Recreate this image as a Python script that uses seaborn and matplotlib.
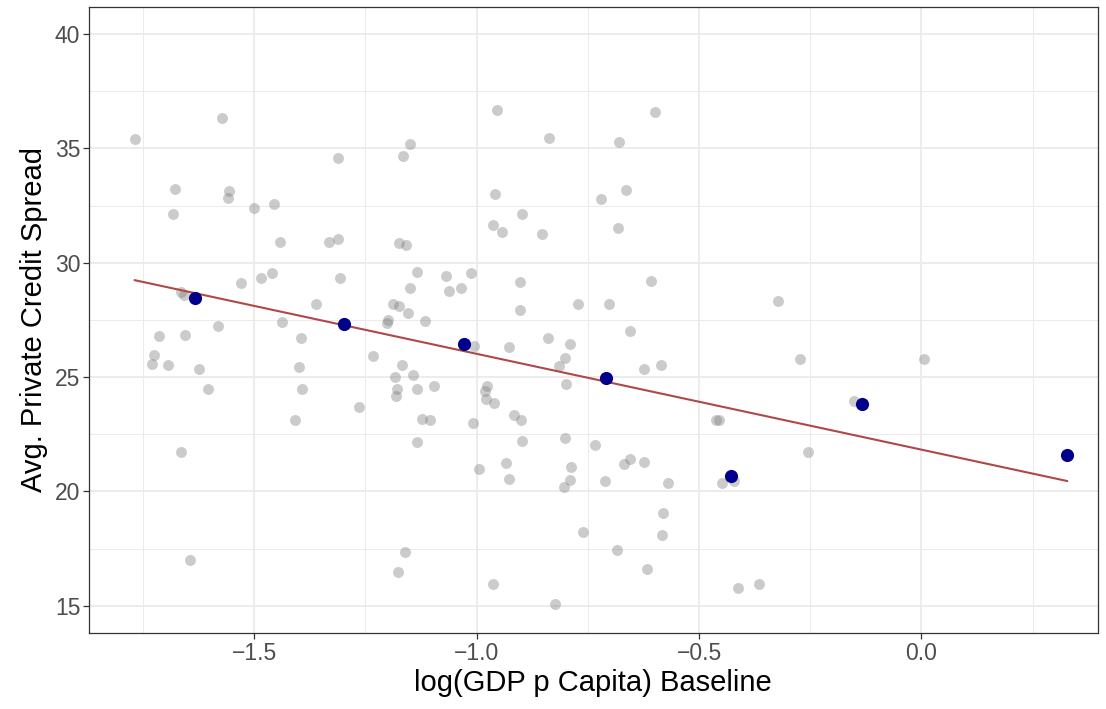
import numpy as np
import pandas as pd
import matplotlib
matplotlib.use("Agg")
import matplotlib.pyplot as plt
from matplotlib.ticker import MultipleLocator
import seaborn as sns

# country-level observations (grey)
gdp = [-1.769, -1.572, -1.679, -1.557, -1.559, -1.682, -1.500, -1.455, -1.311, -1.443,
       -1.332, -1.312, -1.530, -1.485, -1.460, -1.306, -1.665, -1.657, -1.360, -1.714,
       -1.656, -1.582, -1.438, -1.395, -1.726, -1.730, -1.694, -1.625, -1.399, -1.604,
       -1.392, -1.408, -1.664, -1.645, -0.955, -0.837, -1.149, -1.166, -0.958, -0.899,
       -0.963, -0.942, -0.854, -1.174, -1.159, -1.133, -1.069, -1.012, -0.903, -1.149,
       -1.062, -1.036, -0.902, -0.771, -1.188, -1.174, -1.155, -1.199, -1.201, -1.115,
       -1.232, -1.167, -1.184, -1.142, -1.179, -1.182, -1.134, -1.096, -1.264, -1.005,
       -0.928, -0.840, -0.791, -0.802, -0.815, -0.800, -0.976, -0.980, -0.979, -0.962,
       -0.917, -0.900, -1.123, -1.105, -1.009, -1.135, -0.899, -0.802, -0.733, -0.994,
       -0.935, -0.928, -0.787, -0.790, -0.804, -0.761, -1.160, -1.176, -0.964, -0.824,
       -0.599, -0.679, -0.665, -0.721, -0.683, -0.608, -0.703, -0.322, -0.656, -0.623,
       -0.586, -0.274, -0.152, -0.462, -0.456, -0.656, -0.669, -0.623, -0.712, -0.569,
       -0.449, -0.422, -0.254, -0.580, -0.584, -0.684, -0.616, -0.412, -0.366, 0.005,
       0.328]
spread = [35.42, 36.33, 33.21, 33.13, 32.83, 32.13, 32.38, 32.57, 34.59, 30.92,
          30.91, 31.05, 29.10, 29.35, 29.55, 29.35, 28.74, 28.59, 28.20, 26.80,
          26.84, 27.24, 27.40, 26.70, 25.97, 25.58, 25.55, 25.37, 25.46, 24.50,
          24.47, 23.12, 21.74, 17.01, 36.69, 35.47, 35.19, 34.68, 33.02, 32.13,
          31.64, 31.36, 31.25, 30.85, 30.77, 29.61, 29.42, 29.54, 29.17, 28.89,
          28.75, 28.90, 27.95, 28.19, 28.19, 28.13, 27.81, 27.49, 27.36, 27.47,
          25.93, 25.55, 25.00, 25.11, 24.50, 24.19, 24.49, 24.62, 23.71, 26.38,
          26.33, 26.70, 26.44, 25.85, 25.48, 24.69, 24.60, 24.41, 24.03, 23.89,
          23.34, 23.13, 23.16, 23.12, 22.99, 22.17, 22.22, 22.34, 22.04, 21.00,
          21.26, 20.56, 21.05, 20.51, 20.19, 18.25, 17.36, 16.47, 15.95, 15.09,
          36.59, 35.29, 33.17, 32.79, 31.52, 29.22, 28.19, 28.33, 27.01, 25.36,
          25.53, 25.81, 23.96, 23.13, 23.13, 21.41, 21.22, 21.31, 20.46, 20.38,
          20.35, 20.46, 21.74, 19.05, 18.10, 17.42, 16.60, 15.77, 15.97, 25.81,
          21.60]

# binned means (blue)
bin_gdp = [-1.633, -1.299, -1.029, -0.710, -0.427, -0.134, 0.328]
bin_spread = [28.45, 27.34, 26.46, 24.97, 20.68, 23.84, 21.60]

# linear fit
fit_intercept = 21.83
fit_slope = -4.19

df = pd.DataFrame({"gdp": gdp, "spread": spread})
bins = pd.DataFrame({"gdp": bin_gdp, "spread": bin_spread})
line_x = np.array([df["gdp"].min(), df["gdp"].max()])
fit = pd.DataFrame({"gdp": line_x, "spread": fit_intercept + fit_slope * line_x})

sns.set_style("white")
plt.rcParams["font.family"] = ["Liberation Sans", "DejaVu Sans"]

fig = plt.figure(figsize=(11.06, 7.09), dpi=100)
ax = fig.add_axes([0.0802, 0.1068, 0.9126, 0.8838])

sns.scatterplot(data=df, x="gdp", y="spread", ax=ax, color="#7f7f7f", alpha=0.4,
                s=62, linewidth=0, zorder=3)
sns.lineplot(data=fit, x="gdp", y="spread", ax=ax, color="#B04848", linewidth=1.5,
             zorder=4)
sns.scatterplot(data=bins, x="gdp", y="spread", ax=ax, color="#00008B", s=90,
                linewidth=0, zorder=5)

ax.set_xlim(-1.872, 0.397)
ax.set_ylim(13.8, 41.2)
ax.xaxis.set_major_locator(MultipleLocator(0.5))
ax.xaxis.set_minor_locator(MultipleLocator(0.25))
ax.yaxis.set_major_locator(MultipleLocator(5))
ax.yaxis.set_minor_locator(MultipleLocator(2.5))
ax.xaxis.set_major_formatter(plt.FuncFormatter(lambda v, p: f"{v:.1f}".replace("-", "\u2212")))

ax.grid(which="major", color="#EBEBEB", linewidth=1.3, zorder=0)
ax.grid(which="minor", color="#EBEBEB", linewidth=0.7, zorder=0)
ax.set_axisbelow(True)
for sp in ax.spines.values():
    sp.set_color("#333333")
    sp.set_linewidth(0.9)
    sp.set_visible(True)
ax.tick_params(which="major", length=4, width=0.9, color="#333333",
               labelsize=16.5, labelcolor="#4D4D4D", pad=2,
               bottom=True, left=True)
ax.tick_params(which="minor", length=0)

ax.set_xlabel("log(GDP p Capita) Baseline", fontsize=21, color="black", labelpad=3)
ax.set_ylabel("Avg. Private Credit Spread", fontsize=21, color="black", labelpad=5)

fig.savefig("out.png", dpi=100)
